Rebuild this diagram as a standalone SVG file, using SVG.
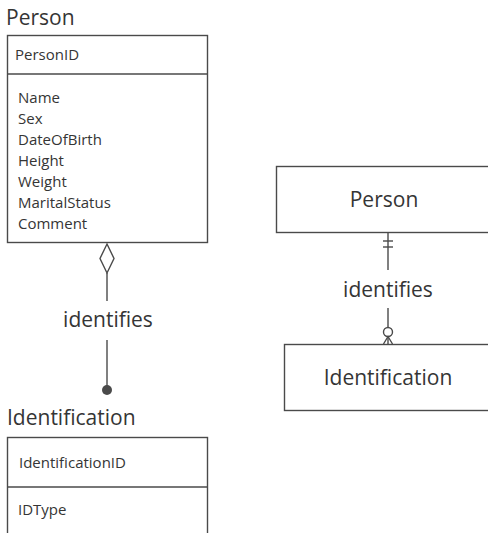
<svg xmlns="http://www.w3.org/2000/svg" width="488" height="533" viewBox="0 0 488 533">
  <style>
    .box { fill: none; stroke: #4a4a4a; stroke-width: 1.4; }
    .line { fill: none; stroke: #4a4a4a; stroke-width: 1.4; }
    .title { font-family: "Open Sans", "Liberation Sans", sans-serif; font-size: 21px; fill: #353535; }
    .attr { font-family: "Open Sans", "Liberation Sans", sans-serif; font-size: 15px; fill: #353535; }
    .label { font-family: "Open Sans", "Liberation Sans", sans-serif; font-size: 21px; fill: #353535; text-anchor: middle; }
  </style>
  <rect width="488" height="533" fill="#ffffff"/>

  <!-- UML-style class: Person -->
  <g id="person-class">
    <text class="title" x="6" y="25">Person</text>
    <rect class="box" x="7.5" y="35.5" width="200" height="207"/>
    <line class="line" x1="7.5" y1="74" x2="207.5" y2="74"/>
    <text class="attr" x="15" y="60">PersonID</text>
    <text class="attr" x="18" y="103">Name</text>
    <text class="attr" x="18" y="124">Sex</text>
    <text class="attr" x="18" y="145">DateOfBirth</text>
    <text class="attr" x="18" y="166">Height</text>
    <text class="attr" x="18" y="187">Weight</text>
    <text class="attr" x="18" y="208">MaritalStatus</text>
    <text class="attr" x="18" y="229">Comment</text>
  </g>

  <!-- UML-style class: Identification -->
  <g id="identification-class">
    <text class="title" x="7" y="425">Identification</text>
    <rect class="box" x="7.5" y="437.5" width="200" height="110"/>
    <line class="line" x1="7.5" y1="487" x2="207.5" y2="487"/>
    <text class="attr" x="19" y="468">IdentificationID</text>
    <text class="attr" x="18" y="515">IDType</text>
  </g>

  <!-- ER-style entity: Person -->
  <g id="person-entity">
    <rect class="box" x="276.5" y="166.5" width="220" height="66"/>
    <text class="label" x="384" y="207">Person</text>
  </g>

  <!-- ER-style entity: Identification -->
  <g id="identification-entity">
    <rect class="box" x="284.5" y="344.5" width="212" height="66"/>
    <text class="label" x="388" y="385">Identification</text>
  </g>

  <!-- relationship lines and their end symbols -->
  <g id="connectors">
    <!-- left: aggregation diamond at Person, filled dot at Identification -->
    <polygon class="line" fill="#ffffff" points="107,244 114,258.5 107,273 100,258.5"/>
    <line class="line" x1="107" y1="273" x2="107" y2="301"/>
    <text class="label" x="108" y="327">identifies</text>
    <line class="line" x1="107" y1="340" x2="107" y2="390"/>
    <circle cx="107" cy="390" r="5" fill="#4a4a4a"/>

    <!-- right: exactly-one at Person, zero-or-many at Identification -->
    <line class="line" x1="388" y1="233" x2="388" y2="270"/>
    <line class="line" x1="383" y1="241" x2="393" y2="241"/>
    <line class="line" x1="383" y1="247" x2="393" y2="247"/>
    <text class="label" x="388" y="297">identifies</text>
    <line class="line" x1="388" y1="308" x2="388" y2="327.5"/>
    <circle class="line" cx="388" cy="332" r="4.5" fill="#ffffff"/>
    <line class="line" x1="388" y1="336.5" x2="388" y2="344"/>
    <polyline class="line" points="383.5,344 388,336.5 392.5,344"/>
  </g>
</svg>
